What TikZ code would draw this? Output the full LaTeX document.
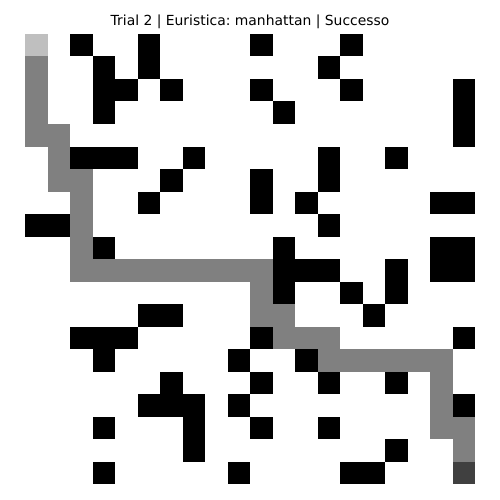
\documentclass[tikz,border=0pt]{standalone}
\usepackage{fontspec}
\setmainfont{DejaVu Sans}
\frenchspacing
\definecolor{pathgray}{HTML}{808080}
\definecolor{startgray}{HTML}{BFBFBF}
\definecolor{goalgray}{HTML}{404040}
\begin{document}
\begin{tikzpicture}[x=1pt,y=-1pt]
\useasboundingbox (0,0) rectangle (500,500);
\fill[white] (0,0) rectangle (500,500);
% walls: (col,row)
\foreach \c/\r in {2/0,5/0,10/0,14/0,
  3/1,5/1,13/1,
  3/2,4/2,6/2,10/2,14/2,19/2,
  3/3,11/3,19/3,
  19/4,
  2/5,3/5,4/5,7/5,13/5,16/5,
  6/6,10/6,13/6,
  5/7,10/7,12/7,18/7,19/7,
  0/8,1/8,13/8,
  3/9,11/9,18/9,19/9,
  11/10,12/10,13/10,16/10,18/10,19/10,
  11/11,14/11,16/11,
  5/12,6/12,15/12,
  2/13,3/13,4/13,10/13,19/13,
  3/14,9/14,12/14,
  6/15,10/15,13/15,16/15,
  5/16,6/16,7/16,9/16,19/16,
  3/17,7/17,10/17,13/17,
  7/18,16/18,
  3/19,9/19,14/19,15/19}
  \fill[black] (25+22.5*\c,34+22.5*\r) rectangle ++(22.5,22.5);
% path
\foreach \c/\r in {0/1,0/2,0/3,0/4,1/4,1/5,1/6,2/6,2/7,2/8,2/9,
  2/10,3/10,4/10,5/10,6/10,7/10,8/10,9/10,10/10,
  10/11,10/12,11/12,11/13,12/13,13/13,
  13/14,14/14,15/14,16/14,17/14,18/14,
  18/15,18/16,18/17,19/17,19/18}
  \fill[pathgray] (25+22.5*\c,34+22.5*\r) rectangle ++(22.5,22.5);
\fill[startgray] (25,34) rectangle ++(22.5,22.5);
\fill[goalgray] (25+22.5*19,34+22.5*19) rectangle ++(22.5,22.5);
\node[inner sep=0pt,anchor=base] (title) at (250,26) {\fontsize{13.9}{16}\selectfont Trial 2 | Euristica: manhattan | Successo};
\end{tikzpicture}
\end{document}
